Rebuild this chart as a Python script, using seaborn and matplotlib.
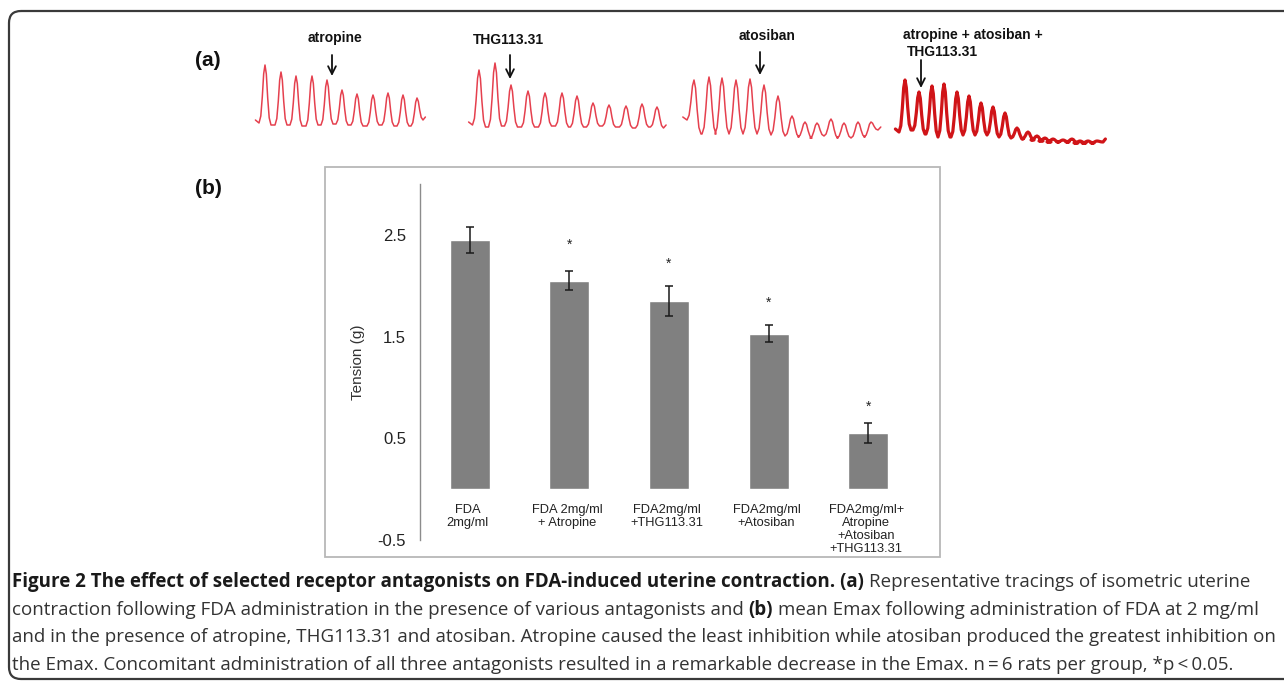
import numpy as np
import pandas as pd
import matplotlib
matplotlib.use("Agg")
import matplotlib.pyplot as plt
import seaborn as sns
from matplotlib.patches import Rectangle, FancyBboxPatch

# ---- panel (b) data: mean Emax (tension, g) with error bars ----
groups = ["FDA\n2mg/ml", "FDA 2mg/ml\n+ Atropine", "FDA2mg/ml\n+THG113.31",
          "FDA2mg/ml\n+Atosiban", "FDA2mg/ml+\nAtropine\n+Atosiban\n+THG113.31"]
tension = [2.45, 2.05, 1.85, 1.53, 0.55]
sem = [0.13, 0.09, 0.15, 0.08, 0.10]
star_y = [None, 2.40, 2.22, 1.83, 0.81]
yticks = [-0.5, 0.5, 1.5, 2.5]

# ---- panel (a) data: tracings, peak times / heights and trough levels ----
atr_peak_t = [15, 31, 46, 62, 77, 92, 107, 123, 138, 153, 167]
atr_peak_h = [85, 78, 74, 74, 70, 60, 56, 55, 57, 55, 52]
atr_trough_h = [27, 25, 25, 24, 25, 26, 25, 24, 25, 24, 24, 30]

thg_peak_t = [229, 245, 261, 278, 295, 312, 327, 343, 359, 376, 392, 407]
thg_peak_h = [80, 87, 65, 59, 57, 57, 54, 47, 45, 44, 46, 43]
thg_trough_h = [25, 23, 24, 23, 23, 24, 23, 23, 24, 23, 22, 23, 22]

ato_peak_t = [444, 459, 472, 486, 500, 514, 528, 542, 555, 567, 581, 594, 608, 621]
ato_peak_h = [70, 73, 72, 70, 71, 65, 54, 34, 28, 27, 31, 27, 28, 28]
ato_trough_h = [30, 16, 16, 16, 16, 16, 15, 14, 13, 12, 14, 12, 12, 13, 20]

cmb_peak_t = [655, 669, 682, 694, 707, 719, 731, 743, 755, 767, 778,
              787, 795, 803, 813, 822, 830, 838, 847]
cmb_peak_h = [70, 58, 64, 66, 58, 54, 47, 43, 37, 22, 18,
              14, 12, 11, 10, 11, 9, 9, 9]
cmb_trough_h = [18, 20, 16, 13, 13, 15, 15, 15, 13, 12, 11,
                10, 9, 8, 8, 8, 7, 7, 7, 8]

caption = [
    [("Figure 2 The effect of selected receptor antagonists on FDA-induced uterine contraction. (a)", "bold"),
     ("Representative tracings of isometric uterine", "normal")],
    [("contraction following FDA administration in the presence of various antagonists and", "normal"),
     ("(b)", "bold"),
     ("mean Emax following administration of FDA at 2 mg/ml", "normal")],
    [("and in the presence of atropine, THG113.31 and atosiban. Atropine caused the least inhibition "
      "while atosiban produced the greatest inhibition on", "normal")],
    [("the Emax. Concomitant administration of all three antagonists resulted in a remarkable decrease "
      "in the Emax. n\u2009=\u20096 rats per group, *p\u2009<\u20090.05.", "normal")],
]

sns.set_style("white")
plt.rcParams['font.family'] = ['Liberation Sans', 'DejaVu Sans']

W, H = 1284, 682
fig = plt.figure(figsize=(W / 100, H / 100), dpi=100)

def px_axes(x0, y0, x1, y1):
    return fig.add_axes([x0 / W, 1 - y1 / H, (x1 - x0) / W, (y1 - y0) / H])

# background axes in pixel units (frame, panel box, caption)
bg = fig.add_axes([0, 0, 1, 1])
bg.set_xlim(0, W)
bg.set_ylim(H, 0)
bg.axis('off')
bg.add_patch(FancyBboxPatch((9, 11), 1300, 668, boxstyle="round,pad=0,rounding_size=12",
                            fill=False, ec='#3a3a3a', lw=1.6))
bg.add_patch(Rectangle((325, 167), 615, 390, fill=False, ec='#b8b8b8', lw=1.3))
bg.text(208, 61, "(a)", ha='center', va='center', fontsize=15, fontweight='bold', color='#111')
bg.text(208, 188, "(b)", ha='center', va='center', fontsize=15, fontweight='bold', color='#111')

# ---- panel (a) ----
axa = px_axes(250, 20, 1110, 150)
axa.set_xlim(0, 860)
axa.set_ylim(0, 130)
axa.axis('off')

# pulse outline (offset as fraction of half-width, height as fraction of amplitude)
pulse_dx = [-1.0, -0.7, -0.45, -0.22, 0.0, 0.22, 0.45, 0.7, 1.0]
pulse_fr = [0.0, 0.12, 0.45, 0.85, 1.0, 0.85, 0.45, 0.12, 0.0]

def trace(peak_t, peak_h, trough_h, w):
    xs = [peak_t[0] - 1.6 * w]
    ys = [trough_h[0] + 3]
    for i, (t, h) in enumerate(zip(peak_t, peak_h)):
        for dx, fr in zip(pulse_dx, pulse_fr):
            base = trough_h[i] if dx < 0 else trough_h[i + 1]
            xs.append(t + dx * w)
            ys.append(base + fr * (h - base))
    xs.append(peak_t[-1] + 1.4 * w)
    ys.append(trough_h[-1] + 3)
    return xs, ys

for pt, ph, th, w, col, lw in [
        (atr_peak_t, atr_peak_h, atr_trough_h, 6, '#e5404e', 1.1),
        (thg_peak_t, thg_peak_h, thg_trough_h, 6.5, '#e5404e', 1.1),
        (ato_peak_t, ato_peak_h, ato_trough_h, 7, '#e5404e', 1.1),
        (cmb_peak_t, cmb_peak_h, cmb_trough_h, 6, '#d01418', 2.3)]:
    xs, ys = trace(pt, ph, th, w)
    sns.lineplot(x=xs, y=ys, sort=False, estimator=None, color=col, lw=lw, ax=axa)

arrow = dict(arrowstyle='->', color='#111', lw=1.3, mutation_scale=14, shrinkA=0, shrinkB=0)
for x, top, tip in [(82, 95, 74), (260, 95, 71), (510, 98, 75), (671, 90, 62)]:
    axa.annotate('', xy=(x, tip), xytext=(x, top), arrowprops=arrow)
lab = dict(fontsize=10, fontweight='bold', color='#111', va='center')
axa.text(85, 112, "atropine", ha='center', **lab)
axa.text(258, 110, "THG113.31", ha='center', **lab)
axa.text(517, 114, "atosiban", ha='center', **lab)
axa.text(653, 115, "atropine + atosiban +", ha='left', **lab)
axa.text(657, 98, "THG113.31", ha='left', **lab)

# ---- panel (b) ----
ax = px_axes(420, 184, 918, 540)
df = pd.DataFrame({'group': groups, 'tension': tension})
sns.barplot(data=df, x='group', y='tension', color='#808080', saturation=1,
            width=0.4, errorbar=None, ax=ax)
ax.errorbar(np.arange(len(groups)), tension, yerr=sem, fmt='none',
            ecolor='#1a1a1a', elinewidth=1.1, capsize=3, capthick=1.1)
for i, ys in enumerate(star_y):
    if ys is not None:
        ax.text(i, ys, "*", ha='center', va='center', fontsize=10, color='#222')
for i, g in enumerate(groups):
    ax.annotate(g, xy=(i, 0), xytext=(-2, -15), textcoords='offset pixels',
                ha='center', va='top', fontsize=9.3, linespacing=1.12, color='#222')
ax.set_xlim(-0.5, 4.5)
ax.set_ylim(-0.5, 3.0)
ax.set_yticks(yticks)
ax.set_yticklabels([f"{v:g}" for v in yticks])
ax.set_xticks([])
ax.set_xlabel('')
ax.set_ylabel('')
ax.tick_params(axis='y', length=0, pad=10, labelsize=12, labelcolor='#222')
ax.text(-62 / 498, 0.5, "Tension (g)", transform=ax.transAxes, rotation=90,
        ha='center', va='center', fontsize=11, color='#333')
for s in ['top', 'right', 'bottom']:
    ax.spines[s].set_visible(False)
ax.spines['left'].set_color('#8c8c8c')
ax.spines['left'].set_linewidth(1.0)
ax.set_facecolor('none')

# ---- caption ----
cap_font = ['Open Sans', 'DejaVu Sans']
renderer = fig.canvas.get_renderer()

def text_width(s, size, weight):
    t = bg.text(0, 0, s, fontsize=size, fontweight=weight, family=cap_font)
    w = t.get_window_extent(renderer).width
    t.remove()
    return w

def line_width(runs, size):
    sp = text_width("a a", size, 'normal') - text_width("aa", size, 'normal')
    return sum(text_width(s, size, wt) for s, wt in runs) + sp * (len(runs) - 1)

ref = 12.0
cap_size = ref * 1262 / line_width(caption[2], ref)
space = text_width("a a", cap_size, 'normal') - text_width("aa", cap_size, 'normal')
for runs, yb in zip(caption, [587, 615, 642, 670]):
    x = 12
    for s, wt in runs:
        col = '#1a1a1a' if wt == 'bold' else '#333333'
        bg.text(x, yb, s, fontsize=cap_size, fontweight=wt, family=cap_font,
                color=col, va='baseline', ha='left')
        x += text_width(s, cap_size, wt) + space

fig.savefig("out.png", dpi=100)
